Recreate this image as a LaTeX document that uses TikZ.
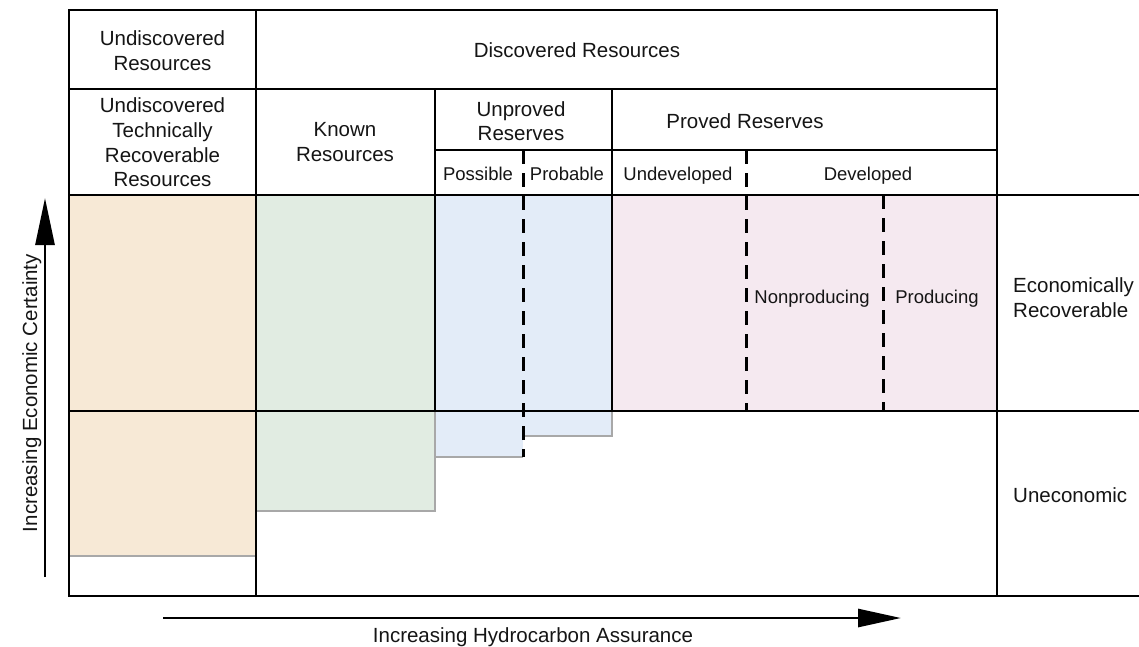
\documentclass[tikz,border=0pt]{standalone}
\usepackage{fontspec}
\setmainfont{Liberation Sans}
\usetikzlibrary{arrows.meta}
\definecolor{orangefill}{HTML}{F7E9D6}
\definecolor{greenfill}{HTML}{E1ECE2}
\definecolor{bluefill}{HTML}{E3ECF8}
\definecolor{pinkfill}{HTML}{F5E9F0}
\definecolor{edgegray}{HTML}{A8A8A8}
\definecolor{txt}{HTML}{151515}
\begin{document}
\begin{tikzpicture}[x=1pt,y=-1pt,
  gridline/.style={line width=2.8pt, black, line cap=rect},
  dashline/.style={line width=3pt, black, dash pattern=on 14pt off 9pt},
  edgeline/.style={draw=edgegray, line width=1.2pt},
  big/.style={font=\fontsize{20.5}{24.6}\selectfont, align=center, inner sep=0pt, text=txt},
  small/.style={font=\fontsize{18.5}{22}\selectfont, inner sep=0pt, text=txt, anchor=base},
  axisarrow/.style={line width=2.8pt, black}
]
\useasboundingbox[fill=white] (0,0) rectangle (1139,646);

% coloured areas
\fill[orangefill] (69,195) rectangle (256,556);
\draw[edgeline] (69,556) -- (256,556);
\fill[greenfill] (256,195) rectangle (435,511);
\fill[bluefill] (435,195) rectangle (523,457);
\fill[bluefill] (523,195) rectangle (612,436);
\fill[pinkfill] (612,195) rectangle (997,411);
\draw[edgeline] (256,511) -- (435,511) -- (435,411);
\draw[edgeline] (435,457) -- (523,457);
\draw[edgeline] (523,436) -- (612,436) -- (612,411);

% grid
\draw[gridline] (69,596) -- (69,10) -- (997,10) -- (997,596);
\draw[gridline] (69,596) -- (1139,596);
\draw[gridline] (69,89) -- (997,89);
\draw[gridline] (69,195) -- (1139,195);
\draw[gridline] (69,411) -- (1139,411);
\draw[gridline] (256,10) -- (256,596);
\draw[gridline] (435,89) -- (435,411);
\draw[gridline] (612,89) -- (612,411);
\draw[gridline] (435,150) -- (997,150);

% dashed separators
\draw[dashline] (523,150) -- (523,457);
\draw[dashline] (746,150) -- (746,411);
\draw[dashline] (883,195) -- (883,411);

% header texts
\node[big] (ur) at (162.5,50.5) {Undiscovered\\Resources};
\node[big, anchor=base] (dr) at (577,57) {Discovered Resources};
\node[big] (utrr) at (162.5,142.5) {Undiscovered\\Technically\\Recoverable\\Resources};
\node[big] (kr) at (345,142) {Known\\Resources};
\node[big] (upr) at (521,121) {Unproved\\Reserves};
\node[big, anchor=base] (pr) at (745,128) {Proved Reserves};
\node[small] (pos) at (478,180) {Possible};
\node[small] (prob) at (567,180) {Probable};
\node[small] (undev) at (678,180) {Undeveloped};
\node[small] (dev) at (868,180) {Developed};
\node[small] (nonp) at (812,303) {Nonproducing};
\node[small] (prod) at (937,303) {Producing};

% right labels
\node[big, align=left, anchor=west] (econ) at (1013,297.5) {Economically\\Recoverable};
\node[big, anchor=base west] (unecon) at (1013,502) {Uneconomic};

% axes
\coordinate (vstart) at (45,577);
\coordinate (vend) at (45,198);
\draw[axisarrow, -{Triangle[length=47pt,width=19pt]}] (vstart) -- (vend);
\node[big, anchor=base, rotate=90] (vlabel) at (37,393) {Increasing Economic Certainty};

\coordinate (hstart) at (163,618);
\coordinate (hend) at (901,618);
\draw[axisarrow, -{Triangle[length=43pt,width=18pt]}] (hstart) -- (hend);
\node[big, anchor=base] (hlabel) at (533,642) {Increasing Hydrocarbon Assurance};
\end{tikzpicture}
\end{document}
